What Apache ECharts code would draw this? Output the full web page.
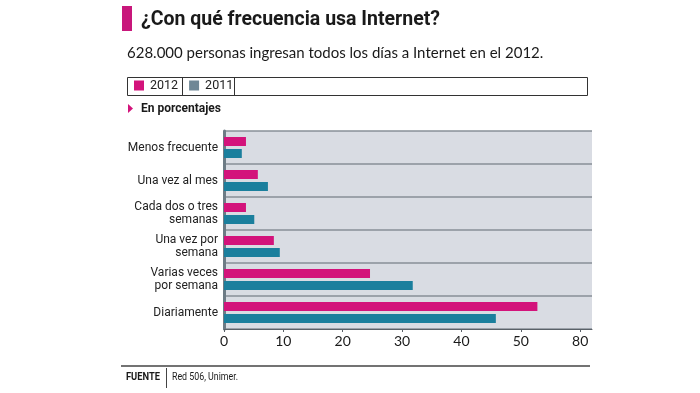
<!DOCTYPE html>
<html>
<head>
<meta charset="utf-8">
<script src="https://cdn.jsdelivr.net/npm/echarts@6/dist/echarts.min.js"></script>
<style>
html,body{margin:0;padding:0;background:#fff;}
#chart{width:700px;height:393px;}
</style>
</head>
<body>
<div id="chart"></div>
<script>
var categories = ['Menos frecuente', 'Una vez al mes', 'Cada dos o tres\nsemanas', 'Una vez por\nsemana', 'Varias veces\npor semana', 'Diariamente'];
var values2012 = [3.7, 5.7, 3.7, 8.4, 24.6, 52.8];
var values2011 = [3.0, 7.4, 5.1, 9.4, 31.8, 45.8];
var tickValues = [0, 10, 20, 30, 40, 50, 60];
var tickLabels = ['0', '10', '20', '30', '40', '50', '80'];
var seriesNames = ['2012', '2011'];
var titleText = '¿Con qué frecuencia usa Internet?';
var subtitleText = '628.000 personas ingresan todos los días a Internet en el 2012.';
var unitText = 'En porcentajes';
var sourceLabel = 'FUENTE';
var sourceText = 'Red 506, Unimer.';

var SANS = 'Roboto, sans-serif';
var MAGENTA = '#d3137b';
var TEAL = '#1b7f9d';
var LEGEND_2011 = '#6f8796';

var measureCtx = document.createElement('canvas').getContext('2d');
function fitScale(text, font, targetWidth) {
  measureCtx.font = font;
  return targetWidth / measureCtx.measureText(text).width;
}
function squeezedText(text, x, y, size, weight, targetWidth) {
  var font = weight + ' ' + size + 'px ' + SANS;
  return {
    type: 'text', x: x, y: y, scaleX: fitScale(text, font, targetWidth), scaleY: 1,
    style: {text: text, fontFamily: SANS, fontWeight: weight, fontSize: size, fill: '#1a1a1a', verticalAlign: 'top', align: 'left'}
  };
}

var chart = echarts.init(document.getElementById('chart'), null, {renderer: 'canvas'});
chart.setOption({
  animation: false,
  backgroundColor: '#ffffff',
  grid: {left: 224, top: 131, width: 368, height: 198, show: true, backgroundColor: '#d9dce3', borderWidth: 0, containLabel: false},
  legend: {
    left: 134, top: 79, padding: 0, itemWidth: 10, itemHeight: 10, itemGap: 11, icon: 'rect',
    textStyle: {fontFamily: SANS, fontSize: 12.5, color: '#222', padding: [0, 0, 0, 1]},
    data: [
      {name: seriesNames[0], itemStyle: {color: MAGENTA}},
      {name: seriesNames[1], itemStyle: {color: LEGEND_2011}}
    ]
  },
  xAxis: {
    type: 'value', min: 0, max: 62, interval: 10,
    axisLine: {show: true, lineStyle: {color: '#5a6168', width: 1}},
    axisTick: {show: true, length: 3, lineStyle: {color: '#5a6168'}},
    splitLine: {show: false},
    axisLabel: {
      fontFamily: 'Lato, sans-serif', fontSize: 14, color: '#1a1a1a', margin: 5,
      showMaxLabel: false,
      formatter: function (v) { var i = tickValues.indexOf(v); return i >= 0 ? tickLabels[i] : ''; }
    }
  },
  yAxis: {
    type: 'category', inverse: true, data: categories,
    axisLine: {show: true, lineStyle: {color: '#6d7b85', width: 3}},
    axisTick: {show: false},
    splitLine: {show: true, lineStyle: {color: '#878f97', width: 1.5}},
    axisLabel: {fontFamily: SANS, fontSize: 12, color: '#222', margin: 6, lineHeight: 13, align: 'right'}
  },
  series: [
    {name: seriesNames[0], type: 'bar', data: values2012, barWidth: 9, barGap: '33%', itemStyle: {color: MAGENTA}},
    {name: seriesNames[1], type: 'bar', data: values2011, barWidth: 9, itemStyle: {color: TEAL}}
  ],
  graphic: [
    {type: 'rect', shape: {x: 122, y: 6, width: 10, height: 25}, style: {fill: '#c8177b'}},
    squeezedText(titleText, 141, 9, 21, 'bold', 299),
    {type: 'text', x: 127, y: 46, style: {text: subtitleText, fontFamily: 'Lato, sans-serif', fontSize: 15, fill: '#1a1a1a', verticalAlign: 'top'}},
    {type: 'rect', shape: {x: 127.5, y: 77.5, width: 460, height: 18}, style: {fill: 'none', stroke: '#333', lineWidth: 1}},
    {type: 'line', shape: {x1: 182.5, y1: 77.5, x2: 182.5, y2: 95.5}, style: {stroke: '#333', lineWidth: 1}},
    {type: 'line', shape: {x1: 234.5, y1: 77.5, x2: 234.5, y2: 95.5}, style: {stroke: '#333', lineWidth: 1}},
    {type: 'polygon', shape: {points: [[128, 104], [133, 108.5], [128, 113]]}, style: {fill: MAGENTA}},
    squeezedText(unitText, 141, 102, 13, 'bold', 80),
    {type: 'line', shape: {x1: 121, y1: 366, x2: 590, y2: 366}, style: {stroke: '#444', lineWidth: 1.5}},
    {type: 'line', shape: {x1: 166.5, y1: 368, x2: 166.5, y2: 388}, style: {stroke: '#444', lineWidth: 1}},
    squeezedText(sourceLabel, 126, 372, 11, 'bold', 34),
    squeezedText(sourceText, 172, 372, 11, 'normal', 66)
  ]
});
</script>
</body>
</html>
